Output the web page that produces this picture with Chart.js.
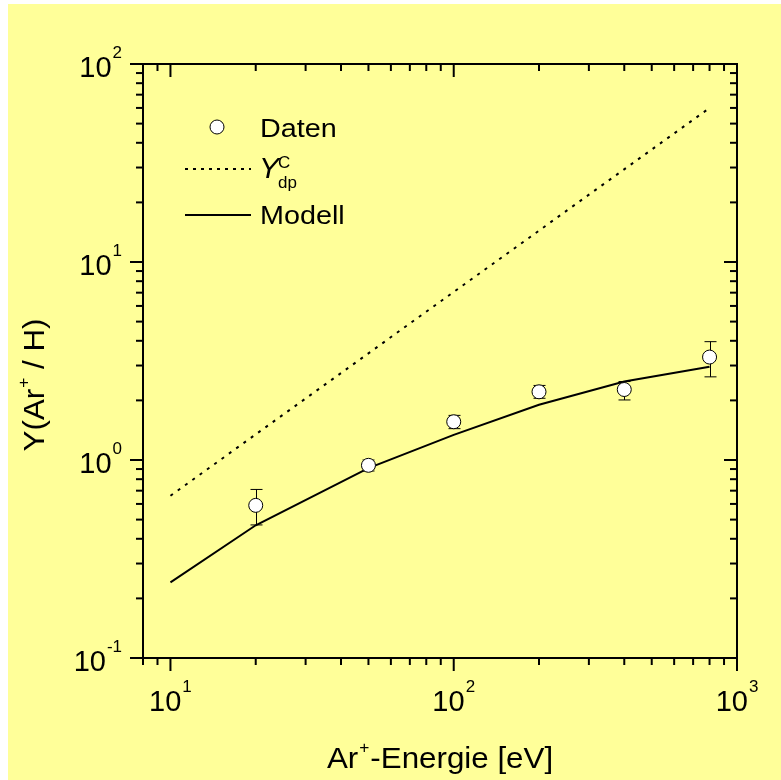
<!DOCTYPE html>
<html>
<head>
<meta charset="utf-8">
<script src="https://cdn.jsdelivr.net/npm/chart.js@4/dist/chart.umd.min.js"></script>
<style>
  body { margin: 0; background: #fff; }
  canvas { display: block; }
</style>
</head>
<body>
<canvas id="chart" width="781" height="780"></canvas>
<script>
// Messdaten (Ar+ auf H)
const energien = [20, 50, 100, 200, 400, 800];
const daten = [0.59, 0.94, 1.56, 2.21, 2.27, 3.31];
const fehlerOben = [0.71, 1.00, 1.68, 2.38, 2.49, 3.96];
const fehlerUnten = [0.47, 0.88, 1.44, 2.05, 2.01, 2.63];

// Modellkurve
const modellEnergien = [10, 20, 50, 100, 200, 400, 800];
const modell = [0.241, 0.468, 0.91, 1.34, 1.90, 2.49, 2.96];

// Y_dp^C (Gerade im log-log)
const ydpEnergien = [10, 800];
const ydp = [0.66, 60];

const xTickExp = [1, 2, 3];
const yTickExp = [-1, 0, 1, 2];

const FONT = '"Liberation Sans", Arial, sans-serif';
const GELB = "#FFFF99";

function txt(ctx, s, x, y, size, align, stretch, italic) {
    ctx.save();
    ctx.font = (italic ? "italic " : "") + size + "px " + FONT;
    ctx.translate(x, y);
    ctx.scale(stretch || 1, 1);
    ctx.textAlign = align || "left";
    ctx.textBaseline = "alphabetic";
    ctx.fillStyle = "#000";
    ctx.fillText(s, 0, 0);
    ctx.restore();
}
function breite(ctx, s, size, stretch, italic) {
    ctx.save();
    ctx.font = (italic ? "italic " : "") + size + "px " + FONT;
    const w = ctx.measureText(s).width * (stretch || 1);
    ctx.restore();
    return w;
}
// "10" mit Exponent, x = linke Kante
function zehnHoch(ctx, n, x, y) {
    txt(ctx, "10", x, y, 29);
    const w = breite(ctx, "10", 29);
    txt(ctx, String(n), x + w + 1, y - 19, 17);
}
function zehnHochBreite(ctx, n) {
    return breite(ctx, "10", 29) + 1 + breite(ctx, String(n), 17);
}

const hintergrund = {
    id: "hintergrund",
    beforeDraw(chart) {
        const ctx = chart.ctx;
        ctx.save();
        ctx.fillStyle = "#fff";
        ctx.fillRect(0, 0, chart.width, chart.height);
        ctx.fillStyle = GELB;
        ctx.fillRect(8, 4, chart.width - 8, chart.height - 4);
        ctx.restore();
    }
};

const fehlerbalken = {
    id: "fehlerbalken",
    beforeDatasetsDraw(chart) {
        const ctx = chart.ctx, xs = chart.scales.x, ys = chart.scales.y;
        ctx.save();
        ctx.strokeStyle = "#000";
        ctx.lineWidth = 1;
        energien.forEach((e, i) => {
            const px = Math.round(xs.getPixelForValue(e)) + 0.5;
            const top = ys.getPixelForValue(fehlerOben[i]);
            const bot = ys.getPixelForValue(fehlerUnten[i]);
            ctx.beginPath();
            ctx.moveTo(px, top); ctx.lineTo(px, bot);
            ctx.moveTo(px - 6, top); ctx.lineTo(px + 6, top);
            ctx.moveTo(px - 6, bot); ctx.lineTo(px + 6, bot);
            ctx.stroke();
        });
        ctx.restore();
    }
};

const achsen = {
    id: "achsen",
    afterDraw(chart) {
        const ctx = chart.ctx, xs = chart.scales.x, ys = chart.scales.y;
        const a = chart.chartArea;
        ctx.save();
        ctx.strokeStyle = "#000";
        ctx.lineWidth = 2;
        ctx.strokeRect(a.left, a.top, a.right - a.left, a.bottom - a.top);

        const tick = (x1, y1, x2, y2) => {
            ctx.beginPath(); ctx.moveTo(x1, y1); ctx.lineTo(x2, y2); ctx.stroke();
        };
        // x-Ticks
        for (let d = 0; d <= 3; d++) {
            for (let m = 1; m <= 9; m++) {
                const v = m * Math.pow(10, d);
                if (v < xs.min || v > xs.max) continue;
                const px = xs.getPixelForValue(v);
                const len = m === 1 ? 13 : 7;
                tick(px, a.bottom, px, a.bottom + len);
                tick(px, a.top, px, a.top + len);
            }
        }
        // y-Ticks
        for (let d = -1; d <= 2; d++) {
            for (let m = 1; m <= 9; m++) {
                const v = m * Math.pow(10, d);
                if (v < ys.min - 1e-9 || v > ys.max + 1e-9) continue;
                const py = ys.getPixelForValue(v);
                const len = m === 1 ? 13 : 7;
                tick(a.left, py, a.left - len, py);
                tick(a.right, py, a.right - len, py);
            }
        }
        // Tick-Beschriftungen
        xTickExp.forEach(n => {
            const px = xs.getPixelForValue(Math.pow(10, n));
            const w = zehnHochBreite(ctx, n);
            zehnHoch(ctx, n, px - w / 2, a.bottom + 53);
        });
        yTickExp.forEach(n => {
            const py = ys.getPixelForValue(Math.pow(10, n));
            const w = zehnHochBreite(ctx, n);
            zehnHoch(ctx, n, 122 - w, py + 13);
        });

        // Achsentitel x
        const st = 1.08;
        const w1 = breite(ctx, "Ar", 29, st), w2 = breite(ctx, "+", 16, st), w3 = breite(ctx, "-Energie [eV]", 29, st);
        let x0 = (a.left + a.right) / 2 - (w1 + w2 + 2 + w3) / 2;
        txt(ctx, "Ar", x0, 768, 29, "left", st);
        txt(ctx, "+", x0 + w1 + 1, 753, 16, "left", st);
        txt(ctx, "-Energie [eV]", x0 + w1 + w2 + 2, 768, 29, "left", st);

        // Achsentitel y
        ctx.save();
        ctx.translate(43.5, 385);
        ctx.rotate(-Math.PI / 2);
        const v1 = breite(ctx, "Y(Ar", 29, st), v2 = breite(ctx, "+", 16, st), v3 = breite(ctx, " / H)", 29, st);
        let y0 = -(v1 + v2 + 1 + v3) / 2;
        txt(ctx, "Y(Ar", y0, 0, 29, "left", st);
        txt(ctx, "+", y0 + v1 + 1, -15, 16, "left", st);
        txt(ctx, " / H)", y0 + v1 + v2 + 1, 0, 29, "left", st);
        ctx.restore();

        // Legende
        ctx.fillStyle = "#fff";
        ctx.lineWidth = 1;
        ctx.beginPath();
        ctx.arc(217, 127, 7, 0, Math.PI * 2);
        ctx.fill(); ctx.stroke();
        txt(ctx, "Daten", 260, 137, 25, "left", 1.15);

        ctx.lineWidth = 2;
        ctx.setLineDash([3, 5]);
        tick(185, 169, 251, 169);
        ctx.setLineDash([]);
        txt(ctx, "Y", 259, 178, 30, "left", 1.0, true);
        txt(ctx, "C", 278, 168, 17, "left", 1.0);
        txt(ctx, "dp", 278, 188, 17, "left", 1.0);

        tick(185, 215, 251, 215);
        txt(ctx, "Modell", 260, 224, 25, "left", 1.15);
        ctx.restore();
    }
};

new Chart(document.getElementById("chart"), {
    type: "line",
    data: {
        datasets: [
            {
                label: "Daten",
                data: energien.map((e, i) => ({ x: e, y: daten[i] })),
                showLine: false,
                pointRadius: 7,
                pointBackgroundColor: "#fff",
                pointBorderColor: "#000",
                pointBorderWidth: 1,
                order: 0
            },
            {
                label: "Ydp",
                data: ydpEnergien.map((e, i) => ({ x: e, y: ydp[i] })),
                borderColor: "#000",
                borderWidth: 2,
                borderDash: [3, 6],
                pointRadius: 0,
                fill: false,
                order: 2
            },
            {
                label: "Modell",
                data: modellEnergien.map((e, i) => ({ x: e, y: modell[i] })),
                borderColor: "#000",
                borderWidth: 2,
                pointRadius: 0,
                fill: false,
                tension: 0,
                order: 1
            }
        ]
    },
    options: {
        responsive: false,
        animation: false,
        devicePixelRatio: 1,
        layout: { padding: { left: 143, top: 64, right: 44, bottom: 122 } },
        scales: {
            x: { type: "logarithmic", min: 8, max: 1000, display: false },
            y: { type: "logarithmic", min: 0.1, max: 100, display: false }
        },
        plugins: { legend: { display: false }, tooltip: { enabled: false } }
    },
    plugins: [hintergrund, fehlerbalken, achsen]
});
</script>
</body>
</html>
